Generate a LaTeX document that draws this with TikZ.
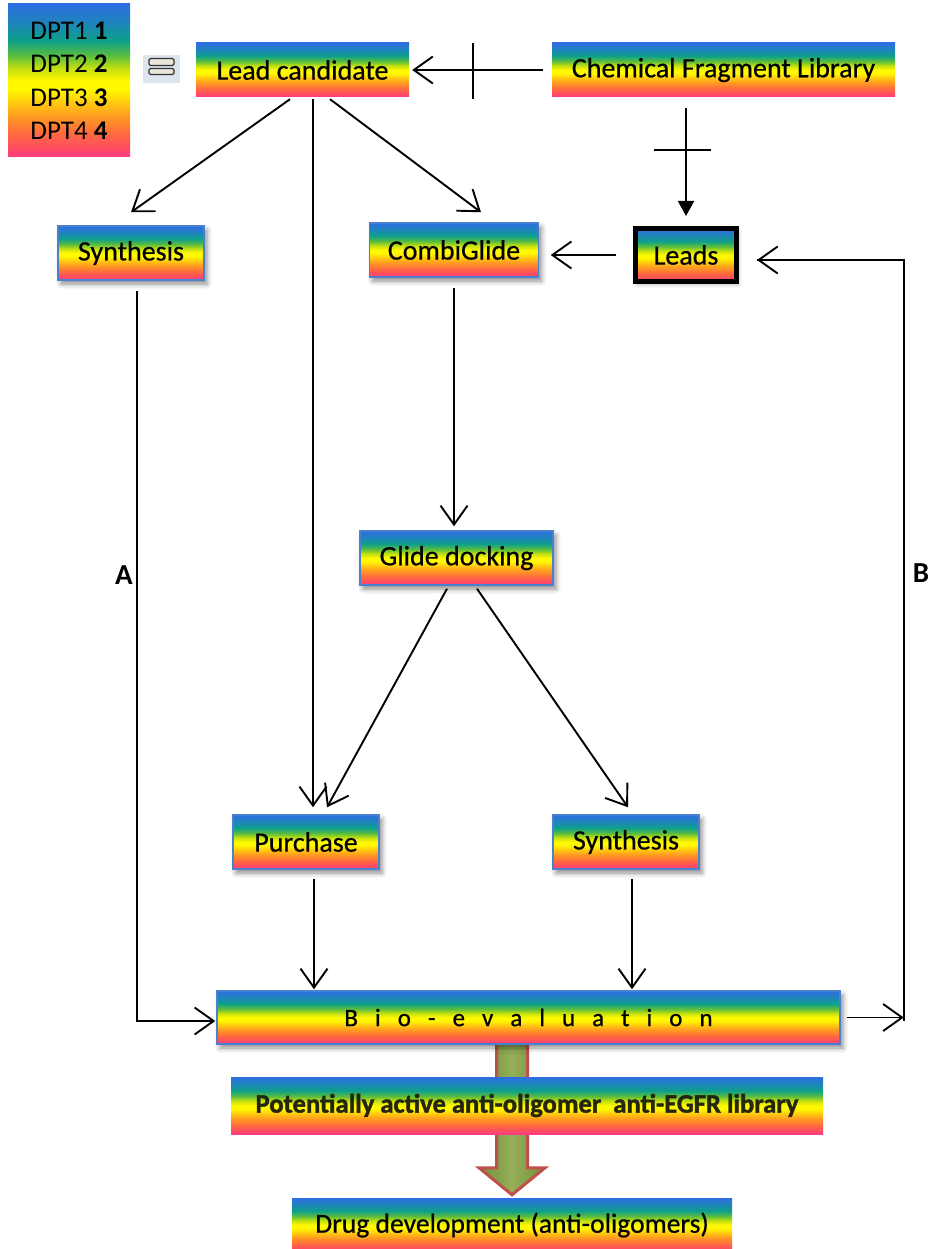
\documentclass[tikz,border=0pt]{standalone}
\usepackage{fontspec}
\setmainfont{Carlito}
\newfontfamily\boxfont[FakeBold=0.6]{Carlito}
\newfontfamily\potfont[BoldFeatures={FakeBold=1.6}]{Carlito}
\usetikzlibrary{arrows.meta,calc,shadows.blur}

% rainbow band colours, bottom to top
\definecolor{rbPink}{HTML}{FF3C84}
\definecolor{rbRed}{HTML}{FF4C62}
\definecolor{rbOrangeRed}{HTML}{FF6C3C}
\definecolor{rbOrange}{HTML}{FFA01E}
\definecolor{rbYellow}{HTML}{FFF800}
\definecolor{rbLime}{HTML}{C4E010}
\definecolor{rbGreen}{HTML}{5CBE3C}
\definecolor{rbTeal}{HTML}{0EA08A}
\definecolor{rbSky}{HTML}{1E84BC}
\definecolor{rbBlue}{HTML}{2E6EE2}
\definecolor{frameblue}{HTML}{4A80D0}
\definecolor{olivefill}{HTML}{72903A}
\definecolor{olivelight}{HTML}{95AE58}
\definecolor{brickred}{HTML}{C0504D}
\definecolor{iconbg}{HTML}{DCE4EE}
\definecolor{iconbar}{HTML}{ECE6DA}
\definecolor{captiondark}{HTML}{26260E}

\pgfdeclareverticalshading{rainbow}{100bp}{%
  color(0bp)=(rbPink); color(25bp)=(rbPink); color(28bp)=(rbRed);
  color(33bp)=(rbOrangeRed); color(39bp)=(rbOrange); color(47bp)=(rbYellow);
  color(50bp)=(rbYellow); color(54bp)=(rbLime); color(58bp)=(rbGreen);
  color(63bp)=(rbTeal); color(69bp)=(rbSky); color(75bp)=(rbBlue);
  color(100bp)=(rbBlue)}

\pgfdeclarelayer{background}
\pgfsetlayers{background,main}

\newcommand\bgap{\hspace{17pt}}

\tikzset{
  box/.style={rectangle, shading=rainbow, inner sep=0pt, text=black,
    font=\boxfont\fontsize{28}{32}\selectfont},
  framed/.style={box, draw=frameblue, line width=1.5pt,
    blur shadow={shadow xshift=3pt, shadow yshift=-4pt,
      shadow blur radius=5pt, shadow opacity=45}},
  arr/.style={line width=1.9pt, -{Straight Barb[length=19pt,width=27pt]}},
  farr/.style={line width=1.9pt, -{Triangle[length=15pt,width=16pt]}},
  conn/.style={line width=1.9pt},
  sidelabel/.style={font=\fontsize{29}{32}\selectfont\bfseries, inner sep=0pt},
}

\begin{document}
\begin{tikzpicture}[x=1pt,y=-1pt]
\useasboundingbox (0,0) rectangle (933,1249);

% legend and equals icon
\node[box, minimum width=122pt, minimum height=153pt, align=left,
  font=\fontsize{27}{33.5}\selectfont] (leg) at (69,80.5)
  {DPT1 \textbf{1}\\DPT2 \textbf{2}\\DPT3 \textbf{3}\\DPT4 \textbf{4}};
\node[rectangle, fill=iconbg, minimum width=37pt, minimum height=28pt,
  inner sep=0pt] (eqicon) at (161.5,69) {};
\draw[fill=iconbar, draw=black!80, line width=1.4pt, rounded corners=1.5pt]
  ($(eqicon)+(-12.5,-10.5)$) rectangle ($(eqicon)+(12.5,-3.5)$);
\draw[fill=iconbar, draw=black!80, line width=1.4pt, rounded corners=1.5pt]
  ($(eqicon)+(-12.5,-0.5)$) rectangle ($(eqicon)+(12.5,5.5)$);

% process boxes
\node[box, minimum width=213pt, minimum height=54pt] (lead) at (302.5,70) {Lead candidate};
\node[box, minimum width=343pt, minimum height=54pt] (cfl) at (723.5,70) {Chemical Fragment Library};
\node[framed, minimum width=146pt, minimum height=54pt] (syn1) at (131,253) {Synthesis};
\node[framed, minimum width=169pt, minimum height=54pt] (combi) at (454,250) {CombiGlide};
\node[box, draw=black, line width=5pt, minimum width=101pt, minimum height=53pt,
  blur shadow={shadow xshift=2pt, shadow yshift=-3pt, shadow blur radius=4pt, shadow opacity=30}]
  (leads) at (686,255) {Leads};
\node[framed, minimum width=193pt, minimum height=54pt] (glide) at (456.5,558) {Glide docking};
\node[framed, minimum width=146pt, minimum height=54pt] (purch) at (306,842) {Purchase};
\node[framed, minimum width=146pt, minimum height=54pt] (syn2) at (626,842) {Synthesis};
\node[framed, minimum width=623pt, minimum height=53pt, font=\boxfont\fontsize{25}{30}\selectfont] (bio) at (528.5,1017.5)
  {B\bgap i\bgap o\bgap -\bgap e\bgap v\bgap a\bgap l\bgap u\bgap a\bgap t\bgap i\bgap o\bgap n\hspace{20pt}};
\node[box, minimum width=592pt, minimum height=57pt, text=captiondark,
  font=\potfont\bfseries\fontsize{26.6}{30}\selectfont] (pot) at (527,1105.5)
  {Potentially active anti-oligomer\ \ anti-EGFR library};
\node[box, minimum width=440pt, minimum height=54pt, font=\boxfont\fontsize{27.6}{30}\selectfont] (drug) at (512,1225)
  {Drug development (anti-oligomers)};

% broad arrow running behind the library box
\begin{pgfonlayer}{background}
\coordinate (shafttop) at (drug.north |- bio.south);
\draw[draw=brickred, line width=3pt, left color=olivefill, right color=olivefill, middle color=olivelight]
  ($(shafttop)+(-15.5,-4)$) -- ($(shafttop)+(15.5,-4)$) -- ($(drug.north)+(15.5,-30)$)
  -- ($(drug.north)+(33,-30)$) -- ($(drug.north)+(0,-3)$) -- ($(drug.north)+(-33,-30)$)
  -- ($(drug.north)+(-15.5,-30)$) -- cycle;
\end{pgfonlayer}

% fragment library links, each crossed by a bar
\draw[arr] ($(cfl.west)+(-9,0)$) -- ($(lead.east)+(3,0)$);
\coordinate (crossA) at (473,71);
\draw[conn] ($(crossA)+(0,-28)$) -- ($(crossA)+(0,28)$);
\draw[farr] ($(cfl.south -| leads.north)+(0,11)$) -- ($(leads.north)+(0,-10)$);
\coordinate (crossB) at (682.5,150);
\draw[conn] ($(crossB)+(-28.5,0)$) -- ($(crossB)+(28.5,0)$);

% leads feed CombiGlide
\draw[arr] ($(leads.west)+(-17,0)$) -- ($(leads.west -| combi.east)+(11.5,0)$);

% lead candidate branches
\draw[arr] ($(lead.south)+(-12.5,2)$) -- ($(syn1.north)+(0,-13)$);
\draw[arr] ($(lead.south)+(10.5,2)$) -- ($(purch.north)+(7,-7)$);
\draw[arr] ($(lead.south)+(27.5,2)$) -- ($(combi.north)+(27,-10)$);

% docking route
\draw[arr] ($(combi.south)+(0,10)$) -- ($(glide.north)+(-2.5,-4)$);
\draw[arr] ($(glide.south)+(-9.5,3)$) -- ($(purch.north)+(21,-7)$);
\draw[arr] ($(glide.south)+(20.5,3)$) -- ($(syn2.north)+(2,-7)$);

% into bio-evaluation
\draw[arr] ($(purch.south)+(8,9)$) -- ($(purch.south |- bio.north)+(8,-1)$);
\draw[arr] ($(syn2.south)+(6,9)$) -- ($(syn2.south |- bio.north)+(6,-1)$);
\draw[arr] ($(syn1.south)+(6,10)$) |- ($(bio.west)+(-1,3.5)$);

% feedback loop B
\coordinate (bturn) at ($(bio.east)+(63,0)$);
\draw[arr] ($(bio.east)+(6,0)$) -- (bturn);
\draw[conn] ($(bturn)+(0,3)$) |- ($(leads.east)+(18,5)$);
\draw[arr] ($(bturn |- leads.east)+(0,5)$) -- ($(leads.east)+(18,5)$);

% route labels
\node[sidelabel] (labA) at (124,575) {A};
\node[sidelabel] (labB) at (921,573) {B};
\end{tikzpicture}
\end{document}
